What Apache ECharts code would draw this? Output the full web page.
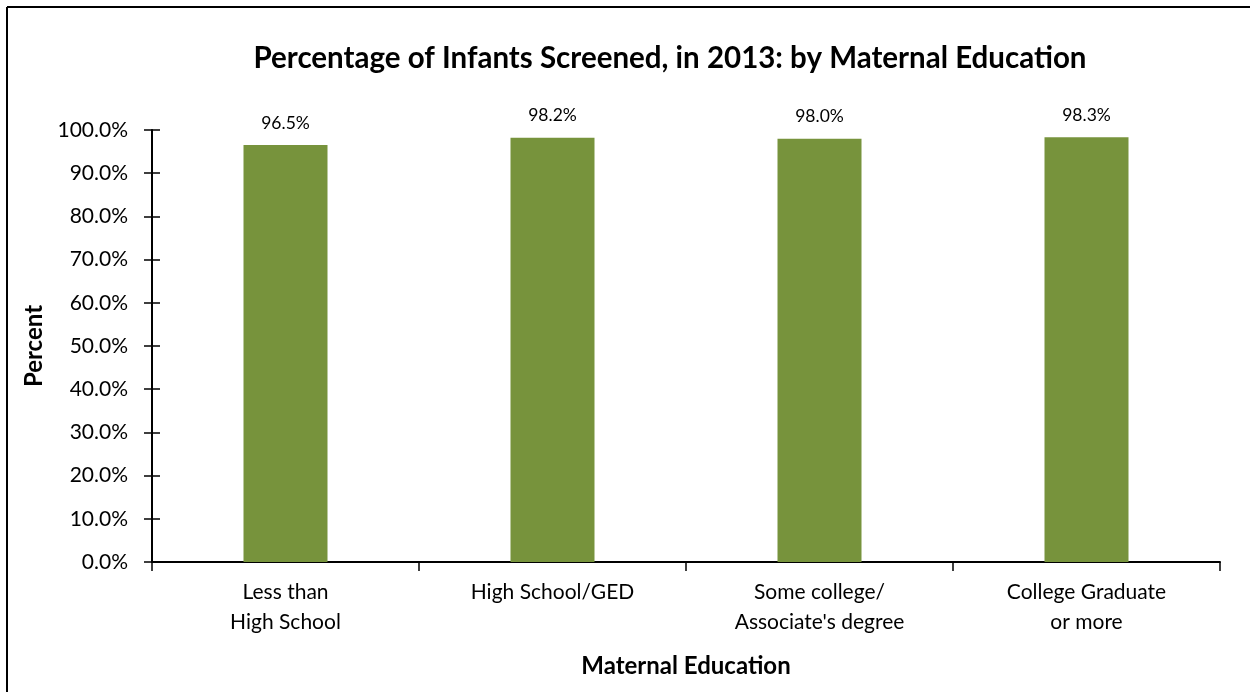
<!DOCTYPE html>
<html><head><meta charset="utf-8">
<script src="https://cdn.jsdelivr.net/npm/echarts@6/dist/echarts.min.js"></script>
<style>html,body{margin:0;padding:0;background:#fff}#c{width:1250px;height:692px}</style>
</head><body><div id="c"></div>
<script>
const categories = ["Less than\nHigh School", "High School/GED", "Some college/\nAssociate's degree", "College Graduate\nor more"];
const values = [96.5, 98.2, 98.0, 98.3];
const yTicks = [0, 10, 20, 30, 40, 50, 60, 70, 80, 90, 100];
const titleText = "Percentage of Infants Screened, in 2013: by Maternal Education";
const xName = "Maternal Education";
const yName = "Percent";

const FONT = "Lato, 'Open Sans', sans-serif";
const chart = echarts.init(document.getElementById('c'), null, {renderer: 'canvas'});
chart.setOption({
  backgroundColor: '#fff',
  animation: false,
  title: {
    text: titleText, left: 665, top: 38, textAlign: 'center',
    textStyle: {fontFamily: FONT, fontSize: 29.5, fontWeight: 'bold', color: '#000'}
  },
  grid: {left: 152, right: 30, top: 130, bottom: 130, containLabel: false},
  xAxis: {
    type: 'category', data: categories,
    name: xName, nameLocation: 'middle', nameGap: 92,
    nameTextStyle: {fontFamily: FONT, fontSize: 24, fontWeight: 'bold', color: '#000'},
    axisLine: {lineStyle: {color: '#000', width: 2}},
    axisTick: {show: true, alignWithLabel: false, length: 9, lineStyle: {color: '#000', width: 1.5}},
    axisLabel: {fontFamily: FONT, fontSize: 21, color: '#000', margin: 15, lineHeight: 30}
  },
  yAxis: [{
    type: 'value', min: 0, max: 100, interval: 10,
    name: yName, nameLocation: 'middle', nameGap: 103, nameRotate: 90,
    nameTextStyle: {fontFamily: FONT, fontSize: 24, fontWeight: 'bold', color: '#000'},
    axisLine: {show: true, lineStyle: {color: '#000', width: 2}},
    axisTick: {show: true, length: 8, lineStyle: {color: '#000', width: 1.5}},
    splitLine: {show: false},
    axisLabel: {fontFamily: FONT, fontSize: 21, color: '#000', margin: 24,
      formatter: v => yTicks.includes(v) ? v.toFixed(1) + '%' : ''}
  }, {
    type: 'value', min: 0, max: 100, interval: 10, position: 'left',
    axisLine: {show: false},
    axisTick: {show: true, inside: true, length: 8, lineStyle: {color: '#000', width: 1.5}},
    axisLabel: {show: false}, splitLine: {show: false}
  }],
  series: [{
    type: 'bar', data: values, barWidth: 84, yAxisIndex: 0,
    itemStyle: {color: '#77933C'},
    label: {show: true, position: 'top', distance: 13, fontFamily: FONT, fontSize: 17.5, color: '#000',
      formatter: p => p.value.toFixed(1) + '%'}
  }],
  graphic: [
    {type: 'line', shape: {x1: 7, y1: 7, x2: 1250, y2: 7}, style: {stroke: '#000', lineWidth: 2}},
    {type: 'line', shape: {x1: 7, y1: 7, x2: 7, y2: 692}, style: {stroke: '#000', lineWidth: 2}}
  ]
});
</script></body></html>
